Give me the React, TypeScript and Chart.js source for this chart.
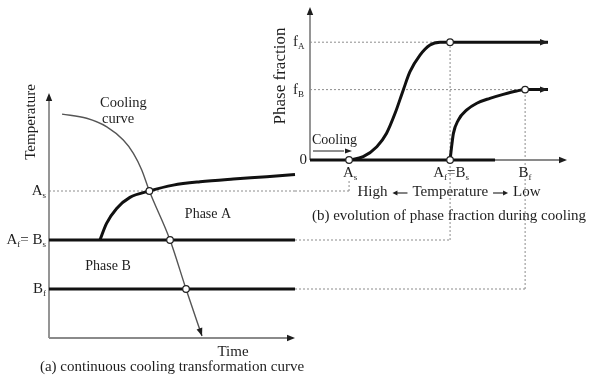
import { useEffect, useRef } from 'react';
import { Chart, registerables } from 'chart.js';

Chart.register(...registerables);

const W = 592;
const H = 378;
const FONT = '"Liberation Serif", "Times New Roman", serif';
const INK = '#1e1e1e';
const AXIS = '#8a8a8a';
const DOT = '#8c8c8c';

// (a) continuous cooling transformation diagram: time vs temperature
const TIME_MAX = 10;
const TEMP_MAX = 10;
const AS_TEMP = 6;
const BS_TEMP = 4; // Af = Bs
const BF_TEMP = 2;
const coolingTime = [0.53, 1.53, 2.35, 3.02, 3.43, 3.77, 4.08, 4.92, 5.57, 6.22];
const coolingTemp = [9.14, 8.97, 8.62, 8.08, 7.54, 6.86, 6.0, 4.0, 2.0, 0.08];
const phaseAStartTime = [2.07, 2.34, 2.75, 3.29, 4.08, 5.05, 6.14, 7.49, 8.85, 10.0];
const phaseAStartTemp = [4.0, 4.68, 5.29, 5.74, 6.0, 6.24, 6.38, 6.49, 6.58, 6.67];
const crossTime = [4.08, 4.92, 5.57];
const crossTemp = [AS_TEMP, BS_TEMP, BF_TEMP];

// (b) phase fraction vs temperature (decreasing to the right)
const POS_MAX = 10;
const FRAC_MAX = 1;
const AS_POS = 1.52;
const AFBS_POS = 5.45;
const BF_POS = 8.37;
const END_POS = 9.26;
const BASE_END_POS = 7.2;
const F_A = 0.77;
const F_B = 0.46;
const fracAPos = [AS_POS, 2.07, 2.6, 2.98, 3.31, 3.63, 3.89, 4.28, 4.67, 5.06, AFBS_POS, END_POS];
const fracA = [0, 0.022, 0.087, 0.175, 0.305, 0.458, 0.577, 0.686, 0.752, 0.77, F_A, F_A];
const fracBPos = [AFBS_POS, 5.51, 5.58, 5.77, 6.1, 6.49, 7.0, 7.52, 8.04, BF_POS, END_POS];
const fracB = [0, 0.087, 0.174, 0.261, 0.327, 0.371, 0.403, 0.429, 0.451, F_B, F_B];
const markPos = [AS_POS, AFBS_POS, AFBS_POS, BF_POS];
const markFrac = [0, F_A, 0, F_B];

const pts = (xs: number[], ys: number[]) => xs.map((x, i) => ({ x, y: ys[i] }));

type Part = [string, boolean?];

function rich(ctx: CanvasRenderingContext2D, parts: Part[], x: number, y: number, align: 'left' | 'right' | 'center', size = 15) {
  const main = `${size}px ${FONT}`;
  const sub = `${Math.round(size * 0.62)}px ${FONT}`;
  const widths = parts.map(([t, s]) => {
    ctx.font = s ? sub : main;
    return ctx.measureText(t).width;
  });
  const total = widths.reduce((a, b) => a + b, 0);
  let cx = align === 'left' ? x : align === 'right' ? x - total : x - total / 2;
  ctx.textBaseline = 'middle';
  ctx.textAlign = 'left';
  ctx.fillStyle = INK;
  parts.forEach(([t, s], i) => {
    ctx.font = s ? sub : main;
    ctx.fillText(t, cx, s ? y + size * 0.32 : y);
    cx += widths[i];
  });
}

function text(ctx: CanvasRenderingContext2D, t: string, x: number, y: number, align: CanvasTextAlign, size = 15, rot = 0) {
  ctx.save();
  ctx.translate(x, y);
  ctx.rotate(rot);
  ctx.font = `${size}px ${FONT}`;
  ctx.fillStyle = INK;
  ctx.textAlign = align;
  ctx.textBaseline = 'middle';
  ctx.fillText(t, 0, 0);
  ctx.restore();
}

function arrowHead(ctx: CanvasRenderingContext2D, x0: number, y0: number, x1: number, y1: number, len = 8, half = 3.2) {
  const a = Math.atan2(y1 - y0, x1 - x0);
  ctx.save();
  ctx.fillStyle = INK;
  ctx.beginPath();
  ctx.moveTo(x1, y1);
  ctx.lineTo(x1 - len * Math.cos(a) + half * Math.sin(a), y1 - len * Math.sin(a) - half * Math.cos(a));
  ctx.lineTo(x1 - len * Math.cos(a) - half * Math.sin(a), y1 - len * Math.sin(a) + half * Math.cos(a));
  ctx.closePath();
  ctx.fill();
  ctx.restore();
}

function line(ctx: CanvasRenderingContext2D, x0: number, y0: number, x1: number, y1: number, color: string, width: number, dash: number[] = []) {
  ctx.save();
  ctx.strokeStyle = color;
  ctx.lineWidth = width;
  ctx.setLineDash(dash);
  ctx.beginPath();
  ctx.moveTo(x0, y0);
  ctx.lineTo(x1, y1);
  ctx.stroke();
  ctx.restore();
}

// "High <- Temperature -> Low" with drawn arrows between the words
function axisTitle(ctx: CanvasRenderingContext2D, cx: number, y: number, size = 15) {
  ctx.save();
  ctx.font = `${size}px ${FONT}`;
  const words = ['High', 'Temperature', 'Low'];
  const ww = words.map((w) => ctx.measureText(w).width);
  const arrowLen = 15;
  const gap = 5;
  const total = ww[0] + ww[1] + ww[2] + 2 * arrowLen + 4 * gap;
  let x = cx - total / 2;
  ctx.fillStyle = INK;
  ctx.textAlign = 'left';
  ctx.textBaseline = 'middle';
  ctx.fillText(words[0], x, y);
  x += ww[0] + gap;
  const ay = y + 1;
  line(ctx, x + 3, ay, x + arrowLen, ay, INK, 1.1);
  arrowHead(ctx, x + arrowLen, ay, x, ay, 5, 2.4);
  x += arrowLen + gap;
  ctx.fillText(words[1], x, y);
  x += ww[1] + gap;
  line(ctx, x, ay, x + arrowLen - 3, ay, INK, 1.1);
  arrowHead(ctx, x, ay, x + arrowLen, ay, 5, 2.4);
  x += arrowLen + gap;
  ctx.fillText(words[2], x, y);
  ctx.restore();
}

const curve = (data: { x: number; y: number }[], color: string, width: number, dash: number[] = []) => ({
  data,
  borderColor: color,
  borderWidth: width,
  borderDash: dash,
  pointRadius: 0,
  fill: false,
  cubicInterpolationMode: 'monotone' as const,
  clip: false as const,
});

const markers = (data: { x: number; y: number }[]) => ({
  data,
  showLine: false,
  pointRadius: 3.3,
  pointBackgroundColor: '#ffffff',
  pointBorderColor: '#222222',
  pointBorderWidth: 1.2,
  clip: false as const,
});

export default function App() {
  const leftRef = useRef<HTMLCanvasElement>(null);
  const rightRef = useRef<HTMLCanvasElement>(null);

  useEffect(() => {
    const leftPlugin = {
      id: 'cctDecor',
      beforeDatasetsDraw(chart: any) {
        const { ctx } = chart;
        const x = chart.scales.x;
        const y = chart.scales.y;
        const x0 = x.getPixelForValue(0);
        const y0 = y.getPixelForValue(0);
        const xe = x.getPixelForValue(TIME_MAX);
        const ye = y.getPixelForValue(TEMP_MAX);
        line(ctx, x0, y0, x0, ye + 6, AXIS, 1.8);
        line(ctx, x0, y0, xe - 6, y0, AXIS, 1.8);
        arrowHead(ctx, x0, y0, x0, ye);
        arrowHead(ctx, x0, y0, xe, y0);
      },
      afterDraw(chart: any) {
        const { ctx } = chart;
        const x = chart.scales.x;
        const y = chart.scales.y;
        const n = coolingTime.length;
        arrowHead(
          ctx,
          x.getPixelForValue(coolingTime[n - 2]),
          y.getPixelForValue(coolingTemp[n - 2]),
          x.getPixelForValue(coolingTime[n - 1]),
          y.getPixelForValue(coolingTemp[n - 1]),
          8,
          3
        );
        const lx = x.getPixelForValue(0) - 3;
        rich(ctx, [['A'], ['s', true]], lx, y.getPixelForValue(AS_TEMP), 'right');
        rich(ctx, [['A'], ['f', true], ['= B'], ['s', true]], lx, y.getPixelForValue(BS_TEMP), 'right');
        rich(ctx, [['B'], ['f', true]], lx, y.getPixelForValue(BF_TEMP), 'right');
        text(ctx, 'Temperature', 31, 122, 'center', 15, -Math.PI / 2);
        text(ctx, 'Cooling', 100, 103, 'left', 14.5);
        text(ctx, 'curve', 102, 119, 'left', 14.5);
        text(ctx, 'Phase A', 208, 214, 'center', 14);
        text(ctx, 'Phase B', 108, 266, 'center', 14);
        text(ctx, 'Time', 233, 352, 'center', 15);
        text(ctx, '(a) continuous cooling transformation curve', 172, 367, 'center', 15);
      },
    };

    const left = new Chart(leftRef.current!, {
      type: 'line',
      data: {
        datasets: [
          markers(pts(crossTime, crossTemp)),
          curve(pts(coolingTime, coolingTemp), '#555555', 1.4),
          curve(pts(phaseAStartTime, phaseAStartTemp), '#111111', 3),
          curve(pts([0, TIME_MAX], [BS_TEMP, BS_TEMP]), '#111111', 3),
          curve(pts([0, TIME_MAX], [BF_TEMP, BF_TEMP]), '#111111', 3),
          curve(pts([0, TIME_MAX], [AS_TEMP, AS_TEMP]), DOT, 1, [2, 2]),
        ] as any,
      },
      options: {
        responsive: false,
        animation: false,
        devicePixelRatio: 1,
        layout: { padding: { left: 49, right: W - 295, top: 93, bottom: H - 338 } },
        plugins: { legend: { display: false }, tooltip: { enabled: false } },
        events: [],
        scales: {
          x: { type: 'linear', min: 0, max: TIME_MAX, display: false },
          y: { type: 'linear', min: 0, max: TEMP_MAX, display: false },
        },
      },
      plugins: [leftPlugin],
    });

    const rightPlugin = {
      id: 'fractionDecor',
      beforeDatasetsDraw(chart: any) {
        const { ctx } = chart;
        const x = chart.scales.x;
        const y = chart.scales.y;
        const x0 = x.getPixelForValue(0);
        const y0 = y.getPixelForValue(0);
        const xe = x.getPixelForValue(POS_MAX);
        const ye = y.getPixelForValue(FRAC_MAX);
        line(ctx, x0, y0, x0, ye + 6, AXIS, 1.8);
        line(ctx, x0, y0, xe - 6, y0, AXIS, 1.8);
        arrowHead(ctx, x0, y0, x0, ye);
        arrowHead(ctx, x0, y0, xe, y0);

        // guide lines linking the transformation temperatures of both panels
        const lxs = left.scales.x;
        const lys = left.scales.y;
        const edge = lxs.getPixelForValue(TIME_MAX);
        const yAs = lys.getPixelForValue(AS_TEMP);
        const yBs = lys.getPixelForValue(BS_TEMP);
        const yBf = lys.getPixelForValue(BF_TEMP);
        const xAs = x.getPixelForValue(AS_POS);
        const xBs = x.getPixelForValue(AFBS_POS);
        const xBf = x.getPixelForValue(BF_POS);
        line(ctx, edge, yAs, xAs, yAs, DOT, 1, [2, 2]);
        line(ctx, xAs, yAs, xAs, yAs - 10, DOT, 1, [2, 2]);
        line(ctx, edge, yBs, xBs, yBs, DOT, 1, [2, 2]);
        line(ctx, xBs, yBs, xBs, y.getPixelForValue(F_A), DOT, 1, [2, 2]);
        line(ctx, edge, yBf, xBf, yBf, DOT, 1, [2, 2]);
        line(ctx, xBf, yBf, xBf, y.getPixelForValue(F_B), DOT, 1, [2, 2]);
      },
      afterDraw(chart: any) {
        const { ctx } = chart;
        const x = chart.scales.x;
        const y = chart.scales.y;
        const ex = x.getPixelForValue(END_POS);
        arrowHead(ctx, ex - 10, y.getPixelForValue(F_A), ex, y.getPixelForValue(F_A));
        arrowHead(ctx, ex - 10, y.getPixelForValue(F_B), ex, y.getPixelForValue(F_B));

        const x0 = x.getPixelForValue(0);
        rich(ctx, [['f'], ['A', true]], x0 - 17, y.getPixelForValue(F_A), 'left', 15);
        rich(ctx, [['f'], ['B', true]], x0 - 17, y.getPixelForValue(F_B), 'left', 15);
        text(ctx, '0', x0 - 3, y.getPixelForValue(0), 'right', 15);
        text(ctx, 'Phase fraction', 281, 76, 'center', 17, -Math.PI / 2);

        text(ctx, 'Cooling', 312, 140, 'left', 14);
        line(ctx, 313, 151, 344, 151, INK, 1);
        arrowHead(ctx, 340, 151, 352, 151, 7, 2.6);

        const ty = y.getPixelForValue(0) + 13;
        rich(ctx, [['A'], ['s', true]], x.getPixelForValue(AS_POS) + 1, ty, 'center');
        rich(ctx, [['A'], ['f', true], ['=B'], ['s', true]], x.getPixelForValue(AFBS_POS) + 1, ty, 'center');
        rich(ctx, [['B'], ['f', true]], x.getPixelForValue(BF_POS), ty, 'center');
        axisTitle(ctx, 449, 192, 15);
        text(ctx, '(b) evolution of phase fraction during cooling', 449, 216, 'center', 15);
      },
    };

    const right = new Chart(rightRef.current!, {
      type: 'line',
      data: {
        datasets: [
          markers(pts(markPos, markFrac)),
          curve(pts(fracAPos, fracA), '#111111', 3),
          curve(pts(fracBPos, fracB), '#111111', 3),
          curve(pts([0, BASE_END_POS], [0, 0]), '#111111', 3),
          curve(pts([0, AFBS_POS], [F_A, F_A]), DOT, 1, [2, 2]),
          curve(pts([0, BF_POS], [F_B, F_B]), DOT, 1, [2, 2]),
        ] as any,
      },
      options: {
        responsive: false,
        animation: false,
        devicePixelRatio: 1,
        layout: { padding: { left: 310, right: W - 567, top: 7, bottom: H - 160 } },
        plugins: { legend: { display: false }, tooltip: { enabled: false } },
        events: [],
        scales: {
          x: { type: 'linear', min: 0, max: POS_MAX, display: false },
          y: { type: 'linear', min: 0, max: FRAC_MAX, display: false },
        },
      },
      plugins: [rightPlugin],
    });

    return () => {
      right.destroy();
      left.destroy();
    };
  }, []);

  const canvasStyle: React.CSSProperties = { position: 'absolute', left: 0, top: 0 };
  return (
    <div style={{ position: 'fixed', left: 0, top: 0, width: W, height: H, background: '#ffffff' }}>
      <canvas ref={leftRef} width={W} height={H} style={canvasStyle} />
      <canvas ref={rightRef} width={W} height={H} style={canvasStyle} />
    </div>
  );
}
